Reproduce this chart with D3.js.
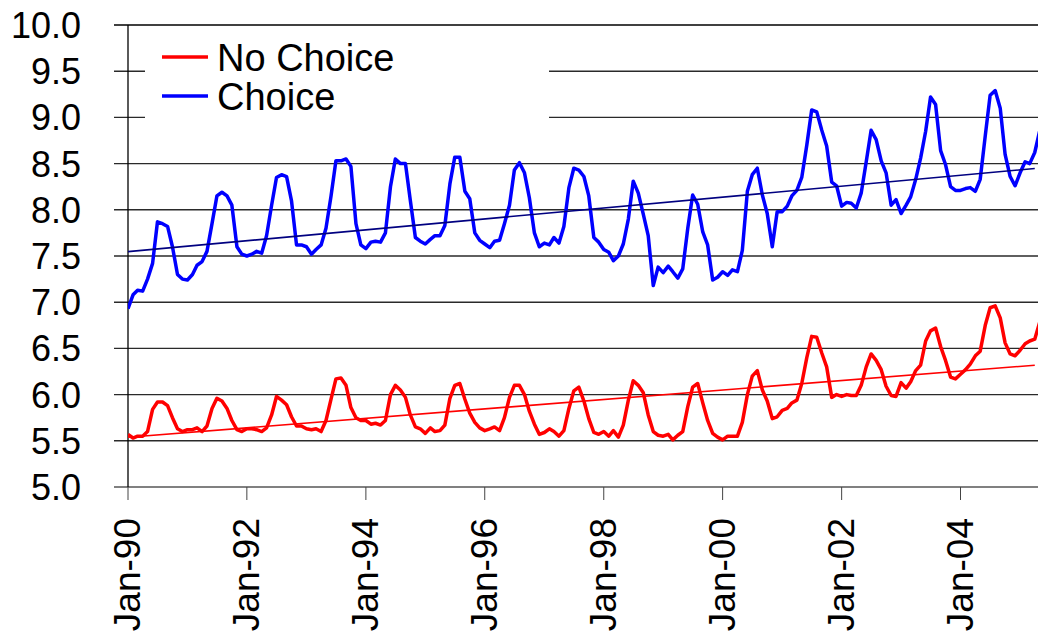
<!DOCTYPE html>
<html>
<head>
<meta charset="utf-8">
<script src="https://cdn.jsdelivr.net/npm/d3@7"></script>
<style>
  html, body { margin: 0; padding: 0; background: #fff; }
  svg { display: block; }
  text { font-family: "Liberation Sans", Arial, sans-serif; fill: #000; }
</style>
</head>
<body>
<svg id="chart" width="1038" height="633"></svg>
<script>
// ---- Data (monthly, starting Jan-1990) ----
const startYear = 1990;

const seriesNames = ["No Choice", "Choice"];

const noChoice = [
  5.57, 5.53, 5.55, 5.55, 5.60, 5.84, 5.92, 5.92, 5.88, 5.75, 5.63, 5.60,
  5.62, 5.62, 5.64, 5.60, 5.66, 5.85, 5.96, 5.93, 5.85, 5.72, 5.62, 5.60,
  5.63, 5.63, 5.62, 5.60, 5.64, 5.78, 5.98, 5.94, 5.89, 5.76, 5.66, 5.66,
  5.63, 5.62, 5.63, 5.60, 5.72, 5.95, 6.17, 6.18, 6.10, 5.86, 5.75, 5.72,
  5.72, 5.68, 5.69, 5.67, 5.72, 6.00, 6.10, 6.05, 5.97, 5.78, 5.65, 5.63,
  5.58, 5.64, 5.60, 5.61, 5.67, 5.96, 6.10, 6.12, 5.95, 5.80, 5.70, 5.64,
  5.61, 5.63, 5.65, 5.61, 5.75, 5.97, 6.10, 6.10, 6.00, 5.82, 5.68, 5.57,
  5.59, 5.63, 5.60, 5.55, 5.61, 5.85, 6.04, 6.08, 5.93, 5.74, 5.59, 5.57,
  5.60, 5.55, 5.61, 5.54, 5.67, 5.94, 6.15, 6.10, 6.02, 5.78, 5.60, 5.56,
  5.55, 5.57, 5.51, 5.56, 5.60, 5.87, 6.08, 6.12, 5.91, 5.72, 5.58, 5.54,
  5.51, 5.55, 5.55, 5.55, 5.70, 6.00, 6.20, 6.26, 6.05, 5.93, 5.74, 5.76,
  5.83, 5.85, 5.91, 5.94, 6.12, 6.40, 6.63, 6.62, 6.45, 6.30, 5.97, 6.00,
  5.98, 6.00, 5.99, 5.99, 6.10, 6.30, 6.44, 6.37, 6.27, 6.09, 5.99, 5.98,
  6.13, 6.07, 6.14, 6.26, 6.32, 6.58, 6.69, 6.72, 6.52, 6.37, 6.19, 6.17,
  6.22, 6.27, 6.33, 6.42, 6.47, 6.75, 6.94, 6.96, 6.83, 6.56, 6.44, 6.42,
  6.48, 6.55, 6.58, 6.60, 6.78
];

const choice = [
  6.93, 7.08, 7.13, 7.12, 7.25, 7.42, 7.87, 7.85, 7.82, 7.60, 7.30, 7.25,
  7.24, 7.30, 7.40, 7.44, 7.55, 7.85, 8.15, 8.19, 8.15, 8.05, 7.60, 7.52,
  7.50, 7.52, 7.55, 7.53, 7.72, 8.05, 8.35, 8.38, 8.36, 8.10, 7.62, 7.62,
  7.60, 7.52, 7.57, 7.62, 7.80, 8.15, 8.53, 8.53, 8.55, 8.47, 7.85, 7.62,
  7.58, 7.65, 7.66, 7.65, 7.75, 8.25, 8.55, 8.50, 8.50, 8.10, 7.70, 7.66,
  7.63, 7.68, 7.72, 7.72, 7.83, 8.28, 8.57, 8.57, 8.20, 8.12, 7.75, 7.67,
  7.63, 7.59, 7.66, 7.67, 7.85, 8.05, 8.43, 8.51, 8.40, 8.13, 7.75, 7.60,
  7.64, 7.62, 7.70, 7.64, 7.82, 8.24, 8.45, 8.43, 8.36, 8.15, 7.70, 7.65,
  7.57, 7.54, 7.45, 7.50, 7.63, 7.90, 8.31, 8.18, 7.95, 7.72, 7.18, 7.38,
  7.32, 7.39, 7.33, 7.26, 7.36, 7.80, 8.16, 8.06, 7.76, 7.62, 7.24, 7.27,
  7.33, 7.29, 7.35, 7.33, 7.56, 8.20, 8.38, 8.45, 8.16, 7.96, 7.60, 7.98,
  7.98, 8.04, 8.15, 8.21, 8.35, 8.70, 9.08, 9.06, 8.86, 8.69, 8.30, 8.26,
  8.04, 8.08, 8.07, 8.02, 8.18, 8.52, 8.86, 8.76, 8.53, 8.40, 8.05, 8.11,
  7.96, 8.05, 8.14, 8.33, 8.56, 8.85, 9.22, 9.14, 8.64, 8.49, 8.25, 8.21,
  8.21, 8.23, 8.24, 8.20, 8.33, 8.80, 9.24, 9.29, 9.10, 8.60, 8.36, 8.26,
  8.40, 8.52, 8.50, 8.62, 8.85
];

// Linear trend lines (value at first month, value at Apr-05)
const trendMonths = [0, 183];
const trendNoChoice = [5.538, 6.318];
const trendChoice = [7.547, 8.447];

const yTicks = [5.0, 5.5, 6.0, 6.5, 7.0, 7.5, 8.0, 8.5, 9.0, 9.5, 10.0];
const xTickYears = [1990, 1992, 1994, 1996, 1998, 2000, 2002, 2004];
const xTickLabels = ["Jan-90", "Jan-92", "Jan-94", "Jan-96", "Jan-98", "Jan-00", "Jan-02", "Jan-04"];

// ---- Drawing ----
const W = 1038, H = 633;
const svg = d3.select("#chart");
svg.append("rect").attr("width", W).attr("height", H).attr("fill", "#fff");

const monthDate = i => new Date(startYear, i, 1);

const x = d3.scaleTime()
  .domain([new Date(1990, 0, 1), new Date(2004, 0, 1)])
  .range([128, 960.5]);
const y = d3.scaleLinear().domain([5, 10]).range([487, 25]);

const plotLeft = 128, plotRight = W;

// gridlines + left tick marks
svg.append("g").selectAll("line")
  .data(yTicks.filter(v => v > 5))
  .join("line")
  .attr("x1", 114).attr("x2", plotRight)
  .attr("y1", d => y(d)).attr("y2", d => y(d))
  .attr("stroke", d => d === 10 ? "#000" : "#2a2a2a")
  .attr("stroke-width", 1.4);

// bottom axis line
svg.append("line")
  .attr("x1", 114).attr("x2", plotRight)
  .attr("y1", y(5)).attr("y2", y(5))
  .attr("stroke", "#808080").attr("stroke-width", 2);

// y axis line
svg.append("line")
  .attr("x1", plotLeft).attr("x2", plotLeft)
  .attr("y1", y(10)).attr("y2", y(5))
  .attr("stroke", "#000").attr("stroke-width", 1.3);

// x ticks
const xTickDates = xTickYears.map(yr => new Date(yr, 0, 1));
svg.append("g").selectAll("line")
  .data(xTickDates)
  .join("line")
  .attr("x1", d => x(d)).attr("x2", d => x(d))
  .attr("y1", y(5)).attr("y2", y(5) + 13)
  .attr("stroke", "#444").attr("stroke-width", 1);

// y tick labels
svg.append("g").selectAll("text")
  .data(yTicks)
  .join("text")
  .attr("x", 81)
  .attr("y", d => y(d))
  .attr("dy", "0.36em")
  .attr("text-anchor", "end")
  .attr("font-size", 36)
  .text(d => d.toFixed(1));

// x tick labels (rotated)
svg.append("g").selectAll("text")
  .data(xTickDates)
  .join("text")
  .attr("transform", (d) => `translate(${x(d) - 1},518) rotate(-90)`)
  .attr("dy", "0.36em")
  .attr("text-anchor", "end")
  .attr("font-size", 37)
  .text((d, i) => xTickLabels[i]);

// clip for plot
svg.append("clipPath").attr("id", "plotclip")
  .append("rect").attr("x", plotLeft).attr("y", 0).attr("width", plotRight - plotLeft).attr("height", H);

const line = d3.line()
  .x((d, i) => x(monthDate(i)))
  .y(d => y(d));

const plot = svg.append("g").attr("clip-path", "url(#plotclip)");

plot.append("path").datum(noChoice)
  .attr("d", line).attr("fill", "none")
  .attr("stroke", "#ff0000").attr("stroke-width", 3.5)
  .attr("stroke-linejoin", "round");

plot.append("path").datum(choice)
  .attr("d", line).attr("fill", "none")
  .attr("stroke", "#0000ff").attr("stroke-width", 3.5)
  .attr("stroke-linejoin", "round");

const trendLine = d3.line()
  .x((d, i) => x(monthDate(trendMonths[i])))
  .y(d => y(d));

plot.append("path").datum(trendNoChoice)
  .attr("d", trendLine).attr("fill", "none")
  .attr("stroke", "#ff0000").attr("stroke-width", 1.6);

plot.append("path").datum(trendChoice)
  .attr("d", trendLine).attr("fill", "none")
  .attr("stroke", "#000080").attr("stroke-width", 1.6);

// legend
const lg = svg.append("g");
lg.append("rect").attr("x", 145).attr("y", 32).attr("width", 404).attr("height", 87).attr("fill", "#fff");
const legendItems = [
  { name: seriesNames[0], color: "#ff0000", y: 57 },
  { name: seriesNames[1], color: "#0000ff", y: 96 }
];
legendItems.forEach(it => {
  lg.append("line").attr("x1", 162).attr("x2", 208)
    .attr("y1", it.y).attr("y2", it.y)
    .attr("stroke", it.color).attr("stroke-width", 3.5);
  lg.append("text").attr("x", 217).attr("y", it.y + 13.5)
    .attr("font-size", 38).text(it.name);
});
</script>
</body>
</html>
